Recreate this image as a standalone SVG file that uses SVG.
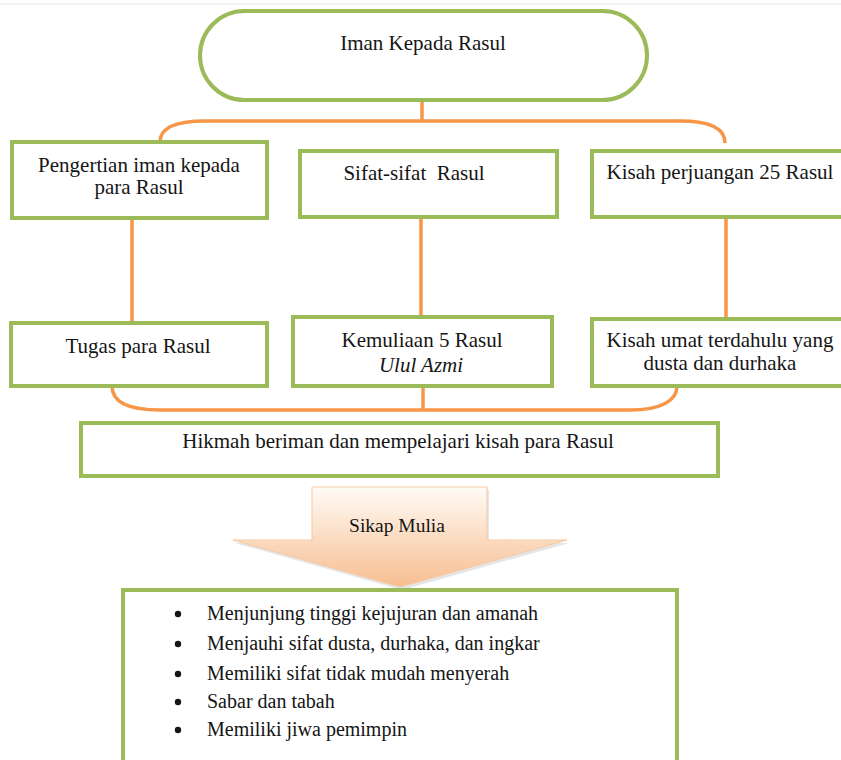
<svg xmlns="http://www.w3.org/2000/svg" width="841" height="760" viewBox="0 0 841 760">
<defs>
<style>
.box{fill:#fff;stroke:#9BBB59;stroke-width:4}
.con{fill:none;stroke:#F79646;stroke-width:3.5}
.t{font-size:21px;text-anchor:middle}
.b{font-size:20px}
</style>
<linearGradient id="ag" x1="0" y1="487" x2="0" y2="587" gradientUnits="userSpaceOnUse">
<stop offset="0" stop-color="#FFFBF6"/>
<stop offset="1" stop-color="#F7BE90"/>
</linearGradient>
</defs>
<rect width="841" height="760" fill="#fff"/>
<line x1="0" y1="4" x2="841" y2="4" stroke="#E3E9F1" stroke-width="1"/>

<g id="connectors">
<path class="con" d="M422,100 L422,121"/>
<path class="con" d="M160,142 C160,128 175,121 205,121 L680,121 C708,121 725,128 725,143"/>
<path class="con" d="M132,218 L132,323"/>
<path class="con" d="M421,217 L421,317"/>
<path class="con" d="M726,217 L726,319"/>
<path class="con" d="M112,386 C112,402 128,410 160,410 L630,410 C662,410 677,400 677,386"/>
<path class="con" d="M423,386 L423,410"/>
</g>

<g font-family="Liberation Serif, DejaVu Serif, serif" fill="#151515">
<g id="n-iman">
<rect class="box" x="200" y="11" width="447" height="89" rx="44.5"/>
<text class="t" x="423" y="50">Iman Kepada Rasul</text>
</g>

<g id="n-pengertian">
<rect class="box" x="12" y="142" width="255" height="76"/>
<text class="t" x="139" y="172">Pengertian iman kepada</text>
<text class="t" x="139" y="194">para Rasul</text>
</g>

<g id="n-sifat">
<rect class="box" x="300" y="151" width="257" height="66"/>
<text class="t" x="414" y="180" xml:space="preserve">Sifat-sifat  Rasul</text>
</g>

<g id="n-kisah25">
<rect class="box" x="592" y="151" width="270" height="66"/>
<text class="t" x="720" y="179">Kisah perjuangan 25 Rasul</text>
</g>

<g id="n-tugas">
<rect class="box" x="11" y="323" width="256" height="63"/>
<text class="t" x="138" y="353">Tugas para Rasul</text>
</g>

<g id="n-kemuliaan">
<rect class="box" x="293" y="317" width="259" height="69"/>
<text class="t" x="422" y="347">Kemuliaan 5 Rasul</text>
<text class="t" x="421" y="372" font-style="italic">Ulul Azmi</text>
</g>

<g id="n-umat">
<rect class="box" x="592" y="319" width="270" height="67"/>
<text class="t" x="720" y="347">Kisah umat terdahulu yang</text>
<text class="t" x="720" y="370">dusta dan durhaka</text>
</g>

<g id="n-hikmah">
<rect class="box" x="81" y="423" width="637" height="53"/>
<text class="t" x="398" y="448">Hikmah beriman dan mempelajari kisah para Rasul</text>
</g>

<g id="n-sikap">
<polygon points="314,490 489,490 489,543 569,543 402,590 235,543 314,543" fill="#999" opacity="0.25"/>
<polygon points="312,487 487,487 487,540 567,540 400,587 233,540 312,540" fill="url(#ag)" stroke="#F5C9A4" stroke-width="1"/>
<text class="t" x="397" y="532" style="font-size:19.5px">Sikap Mulia</text>
</g>

<g id="n-list">
<rect class="box" x="123" y="590" width="554" height="200"/>
<circle cx="178" cy="614" r="3.2"/>
<circle cx="178" cy="644" r="3.2"/>
<circle cx="178" cy="674" r="3.2"/>
<circle cx="178" cy="702" r="3.2"/>
<circle cx="178" cy="730" r="3.2"/>
<text class="b" x="207" y="620">Menjunjung tinggi kejujuran dan amanah</text>
<text class="b" x="207" y="650">Menjauhi sifat dusta, durhaka, dan ingkar</text>
<text class="b" x="207" y="680">Memiliki sifat tidak mudah menyerah</text>
<text class="b" x="207" y="708">Sabar dan tabah</text>
<text class="b" x="207" y="736">Memiliki jiwa pemimpin</text>
</g>
</g>
</svg>
